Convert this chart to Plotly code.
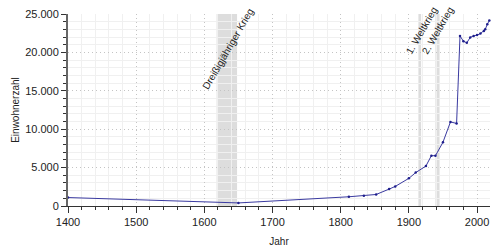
import plotly.graph_objects as go

years = [1400, 1650, 1812, 1834, 1852, 1871, 1880, 1900, 1910, 1925, 1933, 1939,
         1950, 1961, 1970, 1975, 1980, 1985, 1990, 1995, 2000, 2005, 2010, 2012,
         2015, 2018]
population = [1100, 400, 1200, 1350, 1500, 2200, 2550, 3600, 4350, 5200, 6550, 6550,
              8300, 10950, 10750, 22150, 21450, 21250, 21950, 22150, 22250, 22450,
              22800, 23000, 23650, 24150]

event_names = ["Dreißigjähriger Krieg", "1. Weltkrieg", "2. Weltkrieg"]
event_start = [1618, 1914, 1939]
event_end = [1648, 1918, 1945]
label_pos_x = [1635, 1918.5, 1942]
label_pos_y = [20500, 22900, 22900]

x_title = "Jahr"
y_title = "Einwohnerzahl"

FONT = "Liberation Sans"

fig = go.Figure()

shapes = []
for s, e in zip(event_start, event_end):
    shapes.append(dict(type="rect", xref="x", yref="paper", x0=s, x1=e, y0=0, y1=1,
                       fillcolor="#dddddd", line=dict(width=0), layer="between"))

fig.add_trace(go.Scatter(
    x=years, y=population, mode="lines+markers",
    line=dict(color="#3a3aa0", width=1),
    marker=dict(color="#1e1e8c", size=2.5),
    hoverinfo="skip", showlegend=False, cliponaxis=False,
))

annotations = []
for name, ax, ay in zip(event_names, label_pos_x, label_pos_y):
    annotations.append(dict(x=ax, y=ay, xref="x", yref="y", text=name, showarrow=False,
                            textangle=-60, xanchor="center", yanchor="middle",
                            font=dict(family=FONT, size=10, color="#222222")))

fig.update_layout(
    width=500, height=250,
    margin=dict(l=68, r=10, t=14, b=44, autoexpand=False),
    paper_bgcolor="white", plot_bgcolor="white",
    separators=",.",
    shapes=shapes,
    annotations=annotations,
    font=dict(family=FONT, size=11, color="#222222"),
)

fig.update_xaxes(
    range=[1400, 2019], dtick=100, tick0=1400, tickformat="d", automargin=False,
    showline=True, linecolor="#333333", linewidth=1,
    ticks="outside", ticklen=6, tickcolor="#333333",
    showgrid=True, gridcolor="#c4c4c4", griddash="1px,3px", gridwidth=1,
    zeroline=False,
    minor=dict(dtick=20, tick0=1400, ticks="outside", ticklen=3, tickcolor="#333333",
               showgrid=True, gridcolor="#f0f0f0", gridwidth=1, griddash="solid"),
    title=dict(text=x_title, font=dict(family=FONT, size=10), standoff=10),
    tickfont=dict(family=FONT, size=11),
)
fig.update_yaxes(
    range=[0, 25000], dtick=5000, tickformat=",d", automargin=False,
    showline=True, linecolor="#666666", linewidth=2,
    ticks="outside", ticklen=5, tickcolor="#333333",
    showgrid=True, gridcolor="#c4c4c4", griddash="1px,3px", gridwidth=1,
    zeroline=False,
    minor=dict(dtick=1000, ticks="outside", ticklen=3, tickcolor="#333333",
               showgrid=True, gridcolor="#f0f0f0", gridwidth=1, griddash="solid"),
    title=dict(text=y_title, font=dict(family=FONT, size=10), standoff=4),
    tickfont=dict(family=FONT, size=11),
)

fig.write_html("out.html")
